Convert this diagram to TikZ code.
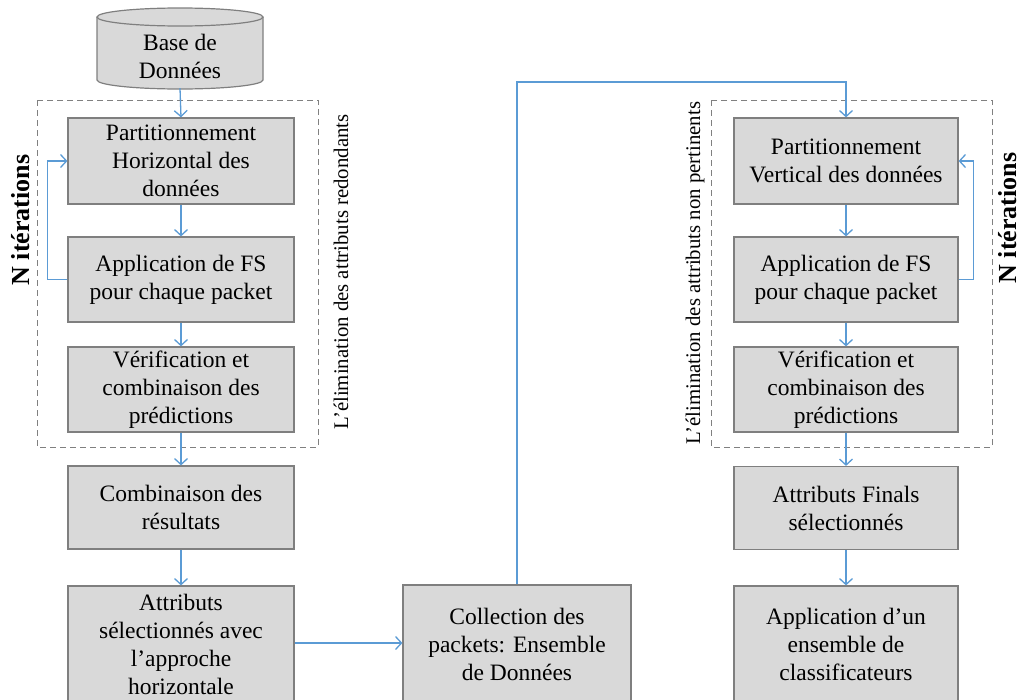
\documentclass[tikz,border=0pt]{standalone}
\usepackage{fontspec}
\setmainfont{Liberation Serif}
\usetikzlibrary{arrows.meta}
\definecolor{boxfill}{HTML}{D9D9D9}
\definecolor{boxline}{HTML}{7F7F7F}
\definecolor{arrowblue}{HTML}{5B9BD5}
\definecolor{dashgray}{HTML}{808080}
\begin{document}
\begin{tikzpicture}[x=1pt,y=-1pt,
  box/.style={draw=boxline, fill=boxfill, line width=1.2pt, minimum width=226pt, minimum height=86pt,
    align=center, font=\fontsize{23.5}{28}\selectfont, inner sep=0pt},
  arr/.style={draw=arrowblue, line width=1.3pt, -{Straight Barb[length=6pt,width=13pt,line width=1.3pt]}},
  dbox/.style={draw=dashgray, line width=1pt, dash pattern=on 6pt off 4pt},
  vlabel/.style={rotate=90, font=\fontsize{20.8}{24}\selectfont, inner sep=0pt},
  nlabel/.style={rotate=90, font=\bfseries\fontsize{26}{28}\selectfont, inner sep=0pt},
]
\useasboundingbox (0,0) rectangle (1022,699);
\clip (0,0) rectangle (1022,699);

% cylinder
\path[fill=boxfill, draw=boxline, line width=1.2pt] (97,17) -- (97,80)
  arc[start angle=180, end angle=0, x radius=83, y radius=9] -- (263,17);
\draw[fill=boxfill, draw=boxline, line width=1.2pt] (180,17) ellipse [x radius=83, y radius=9];
\node[minimum width=166pt, minimum height=80pt, inner sep=0pt] (cyl) at (180,48) {};
\node[align=center, font=\fontsize{23.5}{28}\selectfont] (cyltext) at (180,56) {Base de\\Données};

% dashed groups
\draw[dbox] (37,100) rectangle (318,447);
\draw[dbox] (711,100) rectangle (992,447);

% left column
\node[box] (b1) at (181,161) {Partitionnement\\Horizontal des\\données};
\node[box, minimum height=85pt] (b2) at (181,279.5) {Application de FS\\pour chaque packet};
\node[box, minimum height=85pt] (b3) at (181,389.5) {Vérification et\\combinaison des\\prédictions};
\node[box, minimum height=83pt] (b4) at (181,507.5) {Combinaison des\\résultats};
\node[box, minimum height=116pt] (b5) at (181,644) {Attributs\\sélectionnés avec\\l’approche\\horizontale};

% middle
\node[box, minimum width=228pt, minimum height=118pt] (col) at (517,644) {Collection des\\packets: Ensemble\\de Données};

% right column
\node[box, minimum width=224pt] (r1) at (846,161) {Partitionnement\\Vertical des données};
\node[box, minimum width=224pt, minimum height=85pt] (r2) at (846,279.5) {Application de FS\\pour chaque packet};
\node[box, minimum width=224pt, minimum height=85pt] (r3) at (846,389.5) {Vérification et\\combinaison des\\prédictions};
\node[box, minimum width=224pt, minimum height=83pt] (r4) at (846,508) {Attributs Finals\\sélectionnés};
\node[box, minimum width=224pt, minimum height=116pt] (r5) at (846,644) {Application d’un\\ensemble de\\classificateurs};

% labels
\node[nlabel] (nit1) at (21,220) {N itérations};
\node[nlabel] (nit2) at (1008,218) {N itérations};
\node[vlabel] (el1) at (341,272) {L’élimination des attributs redondants};
\node[vlabel] (el2) at (695,273) {L’élimination des attributs non pertinents};

% connectors
\draw[arr] (cyl.south) -- (b1.north);
\draw[arr] (b1) -- (b2);
\draw[arr] (b2) -- (b3);
\draw[arr] (b3) -- (b4);
\draw[arr] (b4) -- (b5);
\draw[arr] (b2.west) -- ++(-20,0) |- (b1.west);
\draw[arr] (b5.east |- 0,643) -- (col.west |- 0,643);
\draw[arr] (col.north) -- (col.north |- 0,82) -| (r1.north);
\draw[arr] (r1) -- (r2);
\draw[arr] (r2) -- (r3);
\draw[arr] (r3) -- (r4);
\draw[arr] (r4) -- (r5);
\draw[arr] (r2.east) -- ++(15,0) |- (r1.east);
\end{tikzpicture}
\end{document}
